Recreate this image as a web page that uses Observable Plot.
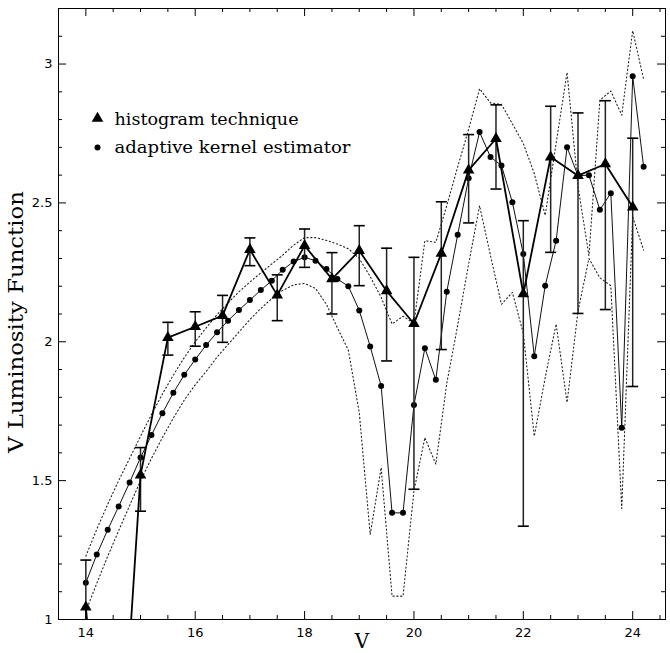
<!DOCTYPE html>
<html><head><meta charset="utf-8">
<script src="https://cdn.jsdelivr.net/npm/d3@7"></script>
<script src="https://cdn.jsdelivr.net/npm/@observablehq/plot@0.6"></script>
<style>body{margin:0;background:#fff}</style>
</head><body><div id="chart"></div>
<script>
// Histogram technique (triangles with error bars)
const histV  = [14, 14.5, 15, 15.5, 16, 16.5, 17, 17.5, 18, 18.5, 19, 19.5, 20, 20.5, 21, 21.5, 22, 22.5, 23, 23.5, 24];
const histLF = [1.044, 0, 1.52, 2.015, 2.054, 2.094, 2.332, 2.168, 2.346, 2.226, 2.328, 2.183, 2.065, 2.318, 2.618, 2.731, 2.172, 2.665, 2.598, 2.64, 2.485];
const histHi = [1.214, null, 1.619, 2.07, 2.108, 2.167, 2.374, 2.241, 2.406, 2.321, 2.418, 2.337, 2.304, 2.504, 2.746, 2.853, 2.436, 2.848, 2.824, 2.868, 2.733];
const histLo = [0.87, null, 1.39, 1.952, 1.984, 1.998, 2.274, 2.076, 2.268, 2.10, 2.202, 1.931, 1.469, 1.972, 2.428, 2.55, 1.336, 2.322, 2.102, 2.116, 1.839];

// Adaptive kernel estimator (dots) and its dotted confidence band
const kernelV = [14.0, 14.2, 14.4, 14.6, 14.8, 15.0, 15.2, 15.4, 15.6, 15.8,
  16.0, 16.2, 16.4, 16.6, 16.8, 17.0, 17.2, 17.4, 17.6, 17.8,
  18.0, 18.2, 18.4, 18.6, 18.8, 19.0, 19.2, 19.4, 19.6, 19.8,
  20.0, 20.2, 20.4, 20.6, 20.8, 21.0, 21.2, 21.4, 21.6, 21.8,
  22.0, 22.2, 22.4, 22.6, 22.8, 23.0, 23.2, 23.4, 23.6, 23.8, 24.0, 24.2];
const kernelLF = [1.132, 1.234, 1.323, 1.407, 1.493, 1.583, 1.664, 1.743, 1.816, 1.881,
  1.936, 1.988, 2.034, 2.076, 2.114, 2.150, 2.186, 2.220, 2.259, 2.289,
  2.304, 2.292, 2.262, 2.226, 2.200, 2.113, 1.983, 1.841, 1.384, 1.384,
  1.772, 1.977, 1.863, 2.180, 2.385, 2.589, 2.755, 2.665, 2.635, 2.502,
  2.316, 1.948, 2.202, 2.364, 2.700, 2.598, 2.600, 2.475, 2.535, 1.690, 2.956, 2.630];
const upperLF = [1.228, 1.325, 1.415, 1.500, 1.580, 1.660, 1.738, 1.812, 1.880, 1.943,
  2.000, 2.050, 2.098, 2.140, 2.180, 2.215, 2.248, 2.280, 2.312, 2.348,
  2.375, 2.375, 2.365, 2.352, 2.335, 2.300, 2.235, 2.160, 2.064, 2.092,
  2.066, 2.364, 2.358, 2.490, 2.630, 2.765, 2.911, 2.860, 2.855, 2.785,
  2.714, 2.606, 2.455, 2.715, 2.970, 2.560, 2.310, 2.870, 2.903, 2.816, 3.120, 2.945];
const lowerLF = [1.030, 1.130, 1.228, 1.320, 1.410, 1.500, 1.580, 1.655, 1.725, 1.790,
  1.845, 1.893, 1.945, 1.990, 2.035, 2.080, 2.120, 2.155, 2.185, 2.205,
  2.210, 2.192, 2.135, 2.050, 1.970, 1.745, 1.306, 1.547, 1.084, 1.084,
  1.463, 1.655, 1.559, 1.850, 2.060, 2.280, 2.490, 2.310, 2.135, 2.178,
  2.030, 1.660, 1.871, 2.064, 1.781, 2.110, 2.300, 2.230, 2.202, 1.400, 2.450, 2.330];

// Axis ticks
const xMajor = [14, 16, 18, 20, 22, 24];
const xMinor = [13.5, 14.5, 15, 15.5, 16.5, 17, 17.5, 18.5, 19, 19.5, 20.5, 21, 21.5, 22.5, 23, 23.5, 24.5];
const yMajor = [1, 1.5, 2, 2.5, 3];
const yMinor = [1.1, 1.2, 1.3, 1.4, 1.6, 1.7, 1.8, 1.9, 2.1, 2.2, 2.3, 2.4, 2.6, 2.7, 2.8, 2.9, 3.1];

const legendLabels = ["histogram technique", "adaptive kernel estimator"];
const xLabel = "V";
const yLabel = "V Luminosity Function";

const W = 670, H = 653, mL = 58, mR = 5, mT = 8, mB = 34;
const pW = W - mL - mR, pH = H - mT - mB;

const hist = histV.map((v, i) => ({v, lf: histLF[i], hi: histHi[i], lo: histLo[i]}));
const errs = hist.filter(d => d.hi != null);
const kern = kernelV.map((v, i) => ({v, lf: kernelLF[i], up: upperLF[i], low: lowerLF[i]}));

const cap = {draw(ctx, size) { const r = Math.sqrt(size / Math.PI); ctx.moveTo(-r, 0); ctx.lineTo(r, 0); }};
const tickFont = "DejaVu Sans";
const serif = "DejaVu Serif";
const dotted = {stroke: "#222", strokeWidth: 1.1, strokeDasharray: "1.2,2.6", clip: true};

const chart = Plot.plot({
  width: W, height: H,
  marginLeft: mL, marginRight: mR, marginTop: mT, marginBottom: mB,
  x: {domain: [13.5, 24.6], axis: null},
  y: {domain: [1, 3.2], axis: null},
  style: {background: "#fff", color: "#000"},
  marks: [
    Plot.line(kern, {x: "v", y: "up", ...dotted}),
    Plot.line(kern, {x: "v", y: "low", ...dotted}),
    Plot.line(kern, {x: "v", y: "lf", stroke: "#111", strokeWidth: 1, clip: true}),
    Plot.dot(kern, {x: "v", y: "lf", r: 3, fill: "#000", stroke: "none", clip: true}),
    Plot.ruleX(errs, {x: "v", y1: "lo", y2: "hi", stroke: "#222", strokeWidth: 1.5, clip: true}),
    Plot.dot(errs, {x: "v", y: "hi", symbol: cap, r: 5.5, stroke: "#000", strokeWidth: 1.6, fill: "none", clip: true}),
    Plot.dot(errs, {x: "v", y: "lo", symbol: cap, r: 5.5, stroke: "#000", strokeWidth: 1.6, fill: "none", clip: true}),
    Plot.line(hist, {x: "v", y: "lf", stroke: "#000", strokeWidth: 1.8, clip: true}),
    Plot.dot(hist, {x: "v", y: "lf", symbol: "triangle", r: 4.3, fill: "#000", stroke: "none", clip: true}),
    Plot.frame({stroke: "#000", strokeWidth: 1}),
    // inward ticks on all four sides
    Plot.tickX(xMajor, {x: d => d, insetTop: pH - 8, stroke: "#000"}),
    Plot.tickX(xMinor, {x: d => d, insetTop: pH - 4, stroke: "#000"}),
    Plot.tickX(xMajor, {x: d => d, insetBottom: pH - 8, stroke: "#000"}),
    Plot.tickX(xMinor, {x: d => d, insetBottom: pH - 4, stroke: "#000"}),
    Plot.tickY(yMajor, {y: d => d, insetRight: pW - 8, stroke: "#000"}),
    Plot.tickY(yMinor, {y: d => d, insetRight: pW - 4, stroke: "#000"}),
    Plot.tickY(yMajor, {y: d => d, insetLeft: pW - 8, stroke: "#000"}),
    Plot.tickY(yMinor, {y: d => d, insetLeft: pW - 4, stroke: "#000"}),
    // tick labels
    Plot.text(xMajor, {x: d => d, frameAnchor: "bottom", dy: 13, lineAnchor: "middle", fontSize: 13, fontFamily: tickFont, fill: "#000"}),
    Plot.text(yMajor, {y: d => d, frameAnchor: "left", dx: -6, textAnchor: "end", lineAnchor: "middle", fontSize: 13, fontFamily: tickFont, fill: "#000"}),
    // axis titles
    Plot.text([xLabel], {frameAnchor: "bottom", dy: 22, lineAnchor: "middle", fontSize: 20, fontFamily: serif, fill: "#000"}),
    Plot.text([yLabel], {frameAnchor: "left", dx: -42, dy: 8, rotate: -90, textAnchor: "middle", lineAnchor: "middle", fontSize: 21, fontFamily: serif, fill: "#000"}),
    // legend
    Plot.dot([legendLabels[0]], {frameAnchor: "top-left", dx: 39, dy: 110, symbol: "triangle", r: 4.3, fill: "#000", stroke: "none"}),
    Plot.dot([legendLabels[1]], {frameAnchor: "top-left", dx: 39, dy: 139, r: 3, fill: "#000", stroke: "none"}),
    Plot.text([legendLabels[0]], {frameAnchor: "top-left", dx: 56, dy: 111, textAnchor: "start", lineAnchor: "middle", fontSize: 16, fontFamily: serif, fill: "#000"}),
    Plot.text([legendLabels[1]], {frameAnchor: "top-left", dx: 56, dy: 139, textAnchor: "start", lineAnchor: "middle", fontSize: 16, fontFamily: serif, fill: "#000"})
  ]
});
// widen the Hershey-like lettering to the reference's text lengths
const stretch = {[yLabel]: 262, [legendLabels[0]]: 184, [legendLabels[1]]: 236};
d3.select(chart).selectAll("text").each(function() {
  const t = this.textContent;
  if (stretch[t]) {
    this.setAttribute("textLength", stretch[t]);
    this.setAttribute("lengthAdjust", "spacingAndGlyphs");
  }
});
document.getElementById("chart").appendChild(chart);
</script>
</body></html>
